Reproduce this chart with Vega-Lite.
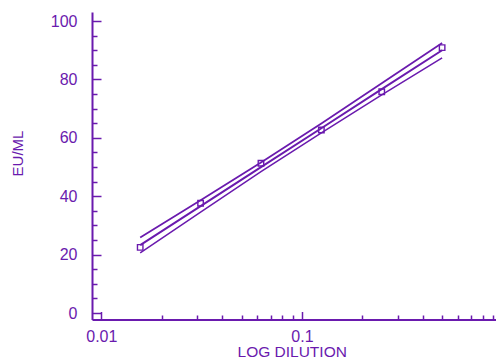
{
  "$schema": "https://vega.github.io/schema/vega-lite/v6.json",
  "width": 404,
  "height": 307.5,
  "autosize": {"type": "none"},
  "padding": {"left": 92, "top": 12, "right": 0, "bottom": 39.5},
  "background": "white",
  "config": {
    "view": {"stroke": null},
    "font": "Liberation Sans",
    "axis": {"domainColor": "#6a1aae", "tickColor": "#6a1aae", "labelColor": "#6a1aae", "titleColor": "#6a1aae", "grid": false, "labelFont": "Liberation Sans", "titleFont": "Liberation Sans", "titleFontWeight": "normal", "domainWidth": 2, "tickWidth": 1.5}
  },
  "datasets": {
    "pts": [
      {"dilution": 0.015625, "eu": 22.5},
      {"dilution": 0.03125, "eu": 37.6},
      {"dilution": 0.0625, "eu": 51.3},
      {"dilution": 0.125, "eu": 62.7},
      {"dilution": 0.25, "eu": 75.8},
      {"dilution": 0.5, "eu": 90.9}
    ],
    "lines": [
      {"dilution": 0.015625, "eu": 23.3, "series": "fit"},
      {"dilution": 0.03125, "eu": 36.6, "series": "fit"},
      {"dilution": 0.0625, "eu": 50.0, "series": "fit"},
      {"dilution": 0.125, "eu": 63.3, "series": "fit"},
      {"dilution": 0.25, "eu": 76.7, "series": "fit"},
      {"dilution": 0.5, "eu": 90.0, "series": "fit"},
      {"dilution": 0.015625, "eu": 25.9, "series": "upper"},
      {"dilution": 0.03125, "eu": 38.6, "series": "upper"},
      {"dilution": 0.0625, "eu": 51.6, "series": "upper"},
      {"dilution": 0.125, "eu": 64.9, "series": "upper"},
      {"dilution": 0.25, "eu": 78.7, "series": "upper"},
      {"dilution": 0.5, "eu": 92.5, "series": "upper"},
      {"dilution": 0.015625, "eu": 20.6, "series": "lower"},
      {"dilution": 0.03125, "eu": 34.6, "series": "lower"},
      {"dilution": 0.0625, "eu": 48.4, "series": "lower"},
      {"dilution": 0.125, "eu": 61.7, "series": "lower"},
      {"dilution": 0.25, "eu": 74.7, "series": "lower"},
      {"dilution": 0.5, "eu": 87.4, "series": "lower"}
    ]
  },
  "resolve": {"axis": {"x": "independent", "y": "independent"}},
  "layer": [
    {
      "data": {"name": "lines"},
      "mark": {"type": "line", "color": "#6a1aae"},
      "encoding": {
        "x": {"field": "dilution", "type": "quantitative",
          "scale": {"type": "log", "domain": [0.008985, 0.928], "nice": false},
          "axis": {"orient": "bottom", "values": [0.01, 0.1, 1], "format": "~g", "tickSize": -8, "labelPadding": 17, "labelFontSize": 16, "labelDx": -5, "labelFlush": false,
            "title": "LOG DILUTION", "titleFontSize": 15.5, "titleX": 199.7, "titleY": 37.4, "titleBaseline": "alphabetic", "titleAlign": "center"}},
        "y": {"field": "eu", "type": "quantitative",
          "scale": {"domain": [-2.2, 103.1], "nice": false, "zero": false},
          "axis": {"orient": "left", "values": [0, 20, 40, 60, 80, 100], "tickSize": -9, "labelPadding": 24, "labelFontSize": 16,
            "title": "EU/ML", "titleFontSize": 15, "titleX": -74.5, "titleY": 141, "titleAlign": "center", "titleBaseline": "middle", "titleAngle": -90}},
        "detail": {"field": "series"},
        "strokeWidth": {"field": "series", "type": "nominal", "scale": {"domain": ["fit", "upper", "lower"], "range": [2, 1.5, 1.5]}, "legend": null}
      }
    },
    {
      "data": {"name": "pts"},
      "mark": {"type": "point", "shape": "square", "size": 30, "filled": false, "color": "#6a1aae", "strokeWidth": 1.4, "opacity": 1},
      "encoding": {
        "x": {"field": "dilution", "type": "quantitative",
          "axis": {"orient": "bottom", "values": [0.02, 0.03, 0.04, 0.05, 0.06, 0.07, 0.08, 0.09, 0.2, 0.3, 0.4, 0.5, 0.6, 0.7, 0.8, 0.9], "tickSize": -4.5, "labels": false, "domain": false, "title": null}},
        "y": {"field": "eu", "type": "quantitative",
          "axis": {"orient": "left", "values": [5, 10, 15, 25, 30, 35, 45, 50, 55, 65, 70, 75, 85, 90, 95], "tickSize": -5, "labels": false, "domain": false, "title": null}}
      }
    },
    {
      "mark": {"type": "rule", "color": "#6a1aae", "strokeWidth": 2},
      "encoding": {"y": {"datum": 103.1, "type": "quantitative", "axis": null}}
    }
  ]
}
